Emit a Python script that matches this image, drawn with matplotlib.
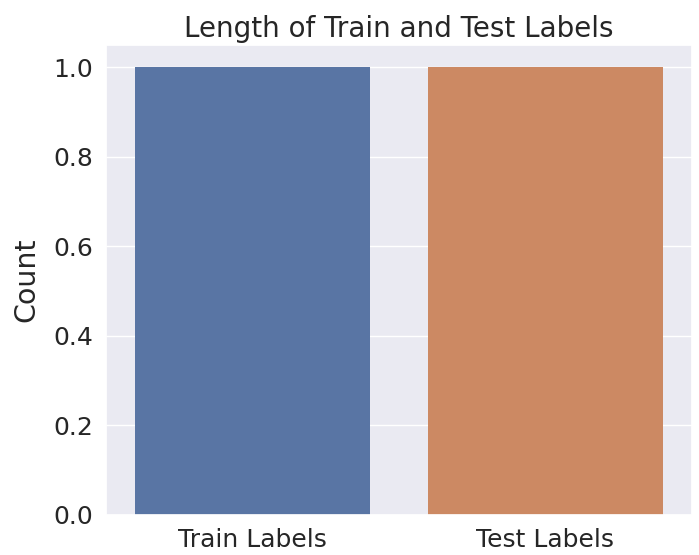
import matplotlib
matplotlib.use("Agg")
import matplotlib.pyplot as plt
import seaborn as sns

categories = ["Train Labels", "Test Labels"]
counts = [1, 1]

sns.set_theme(style="darkgrid")
plt.rcParams['font.family'] = ['DejaVu Sans']

colors = [sns.desaturate(c, 0.75) for c in sns.color_palette("deep")[:2]]

fig = plt.figure(figsize=(6.99, 5.55), dpi=100)
ax = fig.add_axes([106/699, 1-515/555, (692-106)/699, (515-45)/555])
ax.bar(range(len(categories)), counts, width=0.8, color=colors, linewidth=0)
ax.xaxis.grid(False)
ax.set_xticks(range(len(categories)))
ax.set_xticklabels(categories, fontsize=18)
ax.set_xlim(-0.5, 1.5)
ax.set_ylim(0, 1.05)
ax.set_yticks([0.0, 0.2, 0.4, 0.6, 0.8, 1.0])
ax.set_yticklabels([f"{v:.1f}" for v in [0.0, 0.2, 0.4, 0.6, 0.8, 1.0]], fontsize=18)
ax.set_ylabel("Count", fontsize=20.5, labelpad=9)
ax.set_title("Length of Train and Test Labels", fontsize=20)
fig.savefig("out.png", dpi=100)
